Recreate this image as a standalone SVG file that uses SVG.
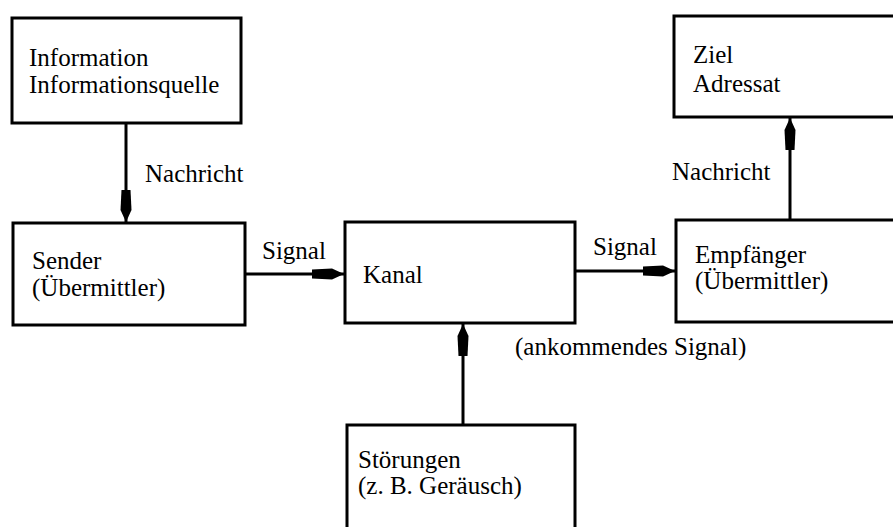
<svg xmlns="http://www.w3.org/2000/svg" width="893" height="527" viewBox="0 0 893 527">
<defs>
<style>
.box{fill:#fff;stroke:#000;stroke-width:3}
.t{font-family:"Liberation Serif","DejaVu Serif",serif;font-size:25px;fill:#000}
.c{stroke:#000;stroke-width:3;fill:none}
</style>
<marker id="ah" markerUnits="userSpaceOnUse" markerWidth="34" markerHeight="14" refX="32" refY="7" orient="auto">
<path d="M0,2.5 L20,1.5 L32,7 L20,12.5 L0,11.5 Z" fill="#000"/>
</marker>
</defs>
<rect width="893" height="527" fill="#fff"/>
<g id="connectors">
<line class="c" x1="126" y1="123" x2="126" y2="222" marker-end="url(#ah)"/>
<line class="c" x1="245" y1="274" x2="344" y2="274" marker-end="url(#ah)"/>
<line class="c" x1="575" y1="271" x2="675" y2="271" marker-end="url(#ah)"/>
<line class="c" x1="463" y1="425" x2="463" y2="324" marker-end="url(#ah)"/>
<line class="c" x1="790" y1="220" x2="790" y2="118" marker-end="url(#ah)"/>
<text class="t" x="145" y="182">Nachricht</text>
<text class="t" x="262" y="259">Signal</text>
<text class="t" x="593" y="255">Signal</text>
<text class="t" x="515" y="355">(ankommendes Signal)</text>
<text class="t" x="672" y="180">Nachricht</text>
</g>
<g id="information">
<rect class="box" x="12" y="18" width="229" height="105"/>
<text class="t" x="29" y="66">Information</text>
<text class="t" x="29" y="93">Informationsquelle</text>
</g>
<g id="sender">
<rect class="box" x="13" y="223" width="232" height="102"/>
<text class="t" x="32" y="269">Sender</text>
<text class="t" x="32" y="296">(Übermittler)</text>
</g>
<g id="kanal">
<rect class="box" x="345" y="222" width="230" height="101"/>
<text class="t" x="363" y="283">Kanal</text>
</g>
<g id="stoerungen">
<rect class="box" x="347" y="425" width="228" height="110"/>
<text class="t" x="358" y="468">Störungen</text>
<text class="t" x="358" y="494">(z. B. Geräusch)</text>
</g>
<g id="ziel">
<rect class="box" x="674" y="16" width="225" height="101"/>
<text class="t" x="693" y="63">Ziel</text>
<text class="t" x="693" y="92">Adressat</text>
</g>
<g id="empfaenger">
<rect class="box" x="676" y="220" width="225" height="102"/>
<text class="t" x="695" y="263">Empfänger</text>
<text class="t" x="695" y="289">(Übermittler)</text>
</g>
</svg>
